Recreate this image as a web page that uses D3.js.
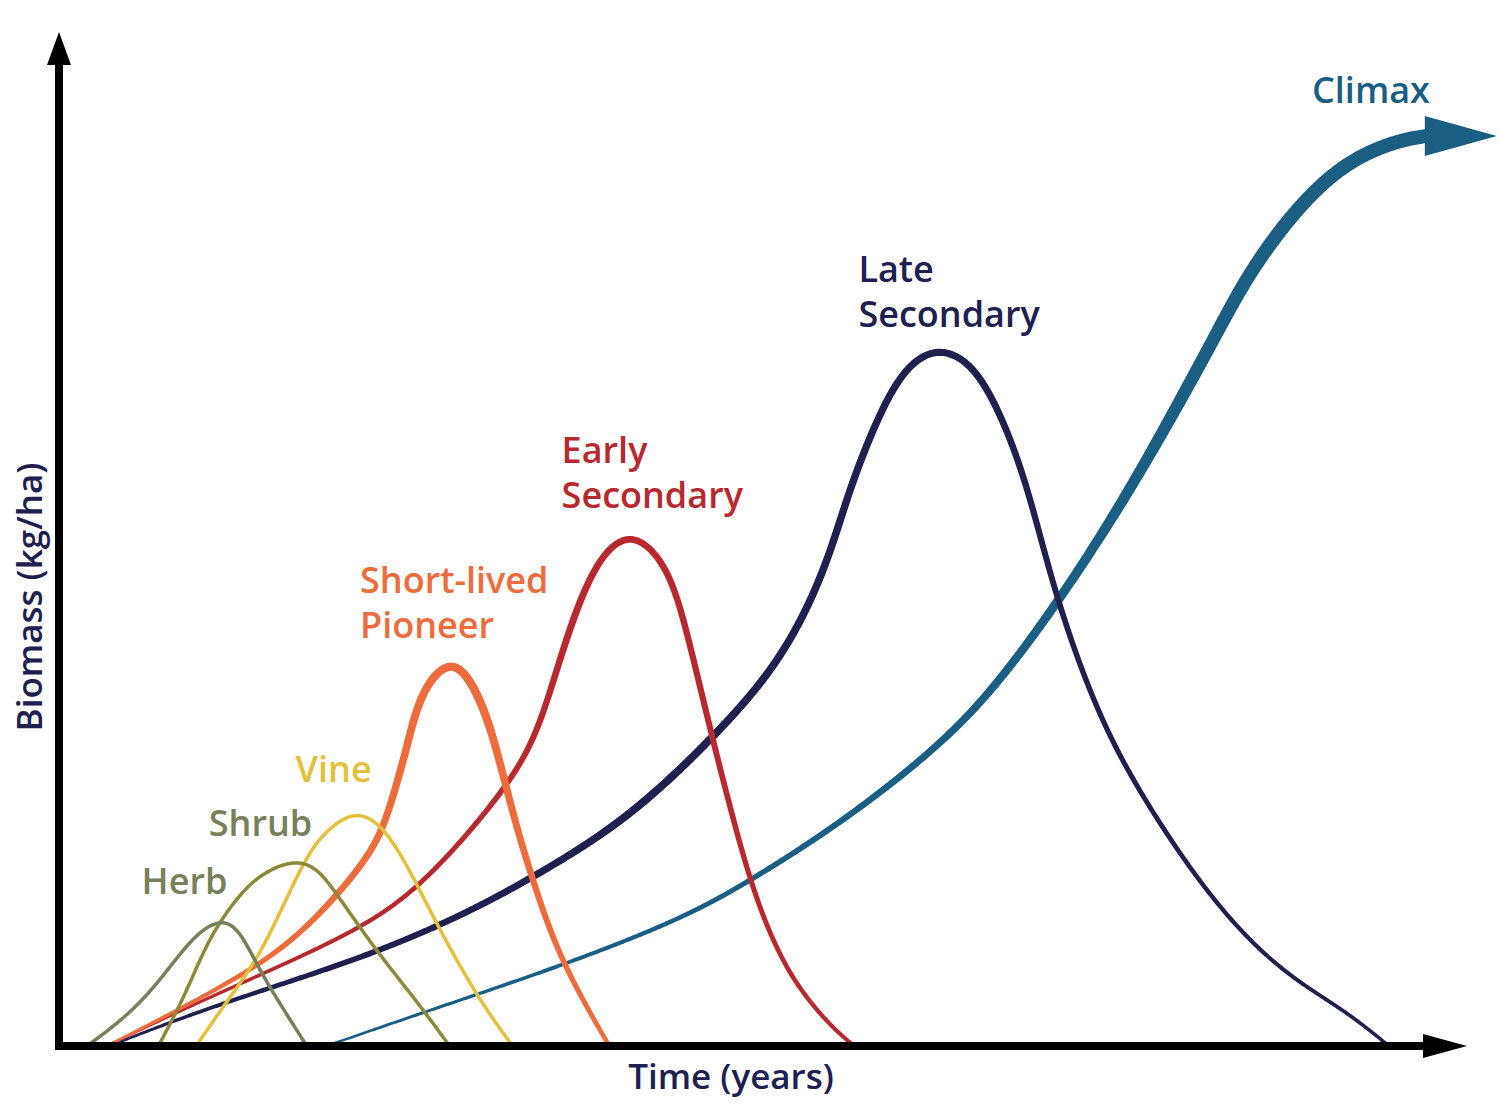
<!DOCTYPE html>
<html>
<head>
<meta charset="utf-8">
<script src="https://cdn.jsdelivr.net/npm/d3@7/dist/d3.min.js"></script>
<style>
  html, body { margin: 0; background: #fff; }
  svg { display: block; }
  text { font-family: "Open Sans", "DejaVu Sans", sans-serif; font-weight: 600; }
</style>
</head>
<body>
<svg id="chart" width="1500" height="1114"></svg>
<script>
// Succession curves. x = time (0..100), y = biomass (0..100)
const herb      = [[2.0,0],[4.8,2.9],[7.1,6.3],[9.5,10.9],[11.5,12.8],[12.9,11.7],[14.3,7.6],[16.2,3.3],[17.7,0]];
const shrub     = [[7.1,0],[9.1,5.3],[10.7,10.9],[13.1,15.6],[14.8,17.5],[16.8,18.6],[18.4,17.9],[19.8,15.3],[22.6,9.6],[25.5,4.6],[27.9,0]];
const vine      = [[9.8,0],[11.9,4.3],[14.3,8.9],[16.2,14.6],[17.9,19.6],[19.5,22.1],[21.5,23.7],[23.8,21.2],[26.9,12.3],[30.0,4.6],[32.4,0]];
const pioneer   = [[3.4,0],[7.1,2.6],[14.3,7.9],[18.1,12.3],[21.4,17.6],[22.9,20.9],[23.8,24.6],[24.8,29.6],[25.5,33.7],[26.6,37.0],[28.4,38.8],
                   [30.2,34.6],[31.4,29.0],[32.6,22.2],[34.1,15.4],[35.9,8.3],[39.3,0]];
const earlySec  = [[3.4,0],[10.7,4.9],[21.4,11.4],[26.2,16.3],[31.9,25.6],[34.1,31.0],[35.5,37.4],[37.1,44.4],[38.9,49.6],[41.1,51.5],
                   [43.5,48.0],[44.8,41.8],[46.4,32.3],[48.1,22.9],[49.8,14.4],[52.1,7.0],[55.0,2.1],[56.8,0]];
const lateSec   = [[3.6,0],[10.7,3.9],[21.4,8.6],[28.6,12.9],[33.8,16.8],[40.5,22.5],[46.6,30.6],[51.6,38.4],[54.8,47.7],[56.4,55.6],
                   [58.8,64.0],[60.7,68.3],[62.9,69.9],[65.2,68.3],[67.1,63.8],[69.1,56.5],[70.9,46.4],[73.1,37.2],[75.5,29.4],
                   [79.1,21.1],[82.6,14.3],[85.7,9.6],[88.6,6.3],[92.1,3.3],[95.0,0]];
const climax    = [[19.1,0],[25.9,3.3],[35.9,8.0],[44.5,12.7],[49.5,16.6],[56.4,22.8],[63.6,30.8],[67.6,37.2],[71.4,44.5],
                   [75.5,53.3],[79.1,62.0],[82.6,71.0],[85.0,77.4],[88.6,84.2],[92.1,88.6],[95.7,90.6],[97.7,91.0]];

const seriesNames = ['Climax','Late Secondary','Early Secondary','Short-lived Pioneer','Vine','Shrub','Herb'];
const seriesData  = [climax, lateSec, earlySec, pioneer, vine, shrub, herb];

// styles: colour and stroke width profile along the curve (fraction of length -> px)
const seriesStyle = [
  { color:'#1a5f83', width:[[0,2.5],[0.25,4.5],[0.45,7],[0.62,9.5],[0.75,12.5],[0.88,14],[1,14]], arrow:true },
  { color:'#20204f', width:[[0,2.5],[0.12,5.5],[0.3,8],[0.45,7.5],[0.6,7],[0.75,5.5],[1,3.5]] },
  { color:'#b8282f', width:[[0,2.5],[0.3,5],[0.5,7],[0.75,6],[1,4]] },
  { color:'#ee6c3b', width:[[0,2.5],[0.3,6.5],[0.6,8.5],[0.8,6.5],[1,4.5]] },
  { color:'#e3c13b', width:[[0,3.5],[1,3.5]] },
  { color:'#8c8a3a', width:[[0,3.5],[1,3.5]] },
  { color:'#76815a', width:[[0,3.5],[1,3.5]] }
];

const labelLines = [['Climax'],['Late','Secondary'],['Early','Secondary'],['Short-lived','Pioneer'],['Vine'],['Shrub'],['Herb']];
const labelColor = ['#1a5f83','#20204f','#b8282f','#ee6c3b','#e3c13b','#76815a','#76815a'];
const labelAt    = [[89.5,94.3],[57.1,76.4],[35.9,58.3],[21.5,45.3],[16.9,26.4],[10.7,21.0],[5.9,15.2]];

const svg = d3.select('#chart');
const x = d3.scaleLinear().domain([0, 100]).range([59, 1459]);
const y = d3.scaleLinear().domain([0, 100]).range([1046, 46]);
const line = d3.line().x(d => x(d[0])).y(d => y(d[1])).curve(d3.curveBasis);

const gCurves = svg.append('g');

// variable-width ribbon along a smooth curve
function ribbon(pts, stops, color){
  const tmp = gCurves.append('path').attr('d', line(pts)).attr('fill','none').attr('stroke','none');
  const node = tmp.node(), L = node.getTotalLength();
  const n = Math.ceil(L / 1.5);
  const P = d3.range(n + 1).map(i => node.getPointAtLength(L * i / n));
  tmp.remove();
  const wScale = d3.scaleLinear().domain(stops.map(s => s[0])).range(stops.map(s => s[1]));
  const left = [], right = [];
  P.forEach((p, i) => {
    const a = P[Math.max(0, i - 2)], b = P[Math.min(n, i + 2)];
    let dx = b.x - a.x, dy = b.y - a.y; const m = Math.hypot(dx, dy) || 1;
    dx /= m; dy /= m;
    const h = wScale(i / n) / 2;
    left.push([p.x - dy * h, p.y + dx * h]);
    right.push([p.x + dy * h, p.y - dx * h]);
  });
  gCurves.append('path')
    .attr('d', d3.line()(left.concat(right.reverse())) + 'Z')
    .attr('fill', color);
  return P[n];
}

seriesData.forEach((pts, i) => {
  const st = seriesStyle[i];
  const end = ribbon(pts, st.width, st.color);
  if (st.arrow){
    gCurves.append('path')
      .attr('d', `M${end.x - 2},${end.y - 20}L${end.x + 70},${end.y}L${end.x - 2},${end.y + 20}Z`)
      .attr('fill', st.color);
  }
});

// labels
labelLines.forEach((lines, i) => {
  lines.forEach((s, j) => svg.append('text')
    .attr('x', x(labelAt[i][0])).attr('y', y(labelAt[i][1]) + j * 45)
    .attr('fill', labelColor[i]).attr('font-size', 36).text(s));
});

// axes with arrow heads
const gAxis = svg.append('g');
const x0 = x(0), y0 = y(0);
gAxis.append('line').attr('x1', x0).attr('y1', y0 + 4).attr('x2', x0).attr('y2', 62)
  .attr('stroke', '#000').attr('stroke-width', 8);
gAxis.append('path').attr('d', `M${x0 - 12},65L${x0},32L${x0 + 12},65Z`).attr('fill', '#000');
gAxis.append('line').attr('x1', x0 - 4).attr('y1', y0).attr('x2', 1426).attr('y2', y0)
  .attr('stroke', '#000').attr('stroke-width', 8);
gAxis.append('path').attr('d', `M1423,${y0 - 12}L1467,${y0}L1423,${y0 + 12}Z`).attr('fill', '#000');

svg.append('text').attr('x', 731).attr('y', 1089).attr('text-anchor', 'middle')
  .attr('fill', '#20204f').attr('font-size', 35).text('Time (years)');
svg.append('text').attr('transform', 'translate(42,597) rotate(-90)').attr('text-anchor', 'middle')
  .attr('fill', '#20204f').attr('font-size', 35).text('Biomass (kg/ha)');
</script>
</body>
</html>
